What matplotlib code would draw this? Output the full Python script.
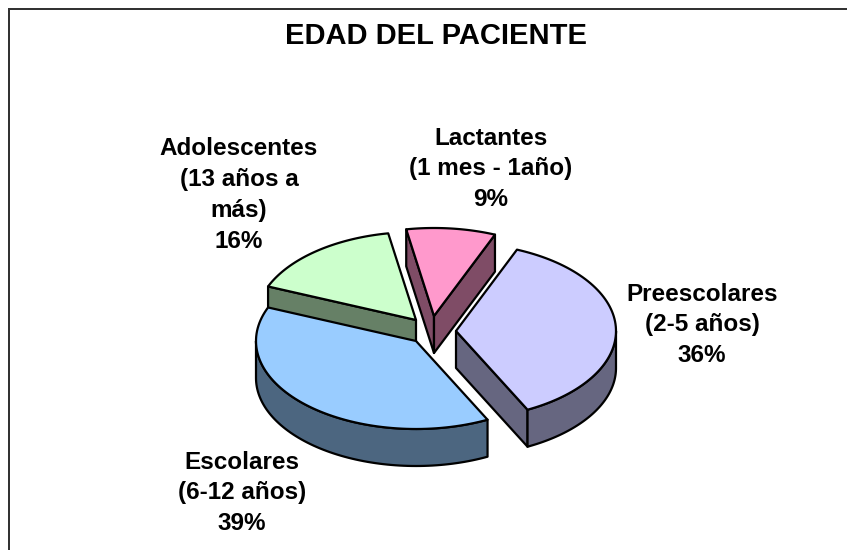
import numpy as np
from matplotlib import pyplot as plt

titulo = 'EDAD DEL PACIENTE'
categorias = ['Lactantes\n(1 mes - 1año)', 'Preescolares\n(2-5 años)', 'Escolares\n(6-12 años)', 'Adolescentes\n(13 años a\nmás)']
valores = [9.0, 36.4, 38.6, 16.0]
etiquetas_pct = ['9%', '36%', '39%', '16%']

colores = ['#FF99CC', '#CCCCFF', '#99CCFF', '#CCFFCC']
colores_lado = ['#7F4C66', '#666680', '#4C6680', '#668066']

# apex of every slice on the top surface, in pixels
centros = [(434, 316), (456, 331), (416, 341), (416, 320)]
pos_etiquetas = [(491, 169), (702, 325), (242, 493), (239, 195)]

RX = 160
RY = 88
ALTO = 37
INICIO = -10


def punto(c, ang):
    # ang is clockwise from the top of the pie, in degrees
    r = np.radians(ang)
    return c[0] + RX * np.sin(r), c[1] - RY * np.cos(r)


def arco(c, a1, a2):
    t = np.linspace(a1, a2, 80)
    return punto(c, t)


def lado_radial(ax, c, ang, color, z):
    x, y = punto(c, ang)
    ax.fill([c[0], x, x, c[0]], [c[1], y, y + ALTO, c[1] + ALTO],
            facecolor=color, edgecolor='black', lw=1.6, joinstyle='round', zorder=z)


def lado_curvo(ax, c, a1, a2, color, z):
    # outer wall, only the front part of the ellipse (90 to 270) shows
    a1 = max(a1, 90)
    a2 = min(a2, 270)
    if a2 <= a1:
        return
    x, y = arco(c, a1, a2)
    ax.fill(np.r_[x, x[::-1]], np.r_[y, y[::-1] + ALTO],
            facecolor=color, edgecolor='black', lw=1.6, joinstyle='round', zorder=z)


def tapa(ax, c, a1, a2, color, z):
    x, y = arco(c, a1, a2)
    ax.fill(np.r_[c[0], x], np.r_[c[1], y],
            facecolor=color, edgecolor='black', lw=1.6, joinstyle='round', zorder=z)


def main():
    plt.rcParams['font.family'] = ['Liberation Sans', 'DejaVu Sans']

    fig = plt.figure(figsize=(8.47, 5.5), dpi=100)
    ax = fig.add_axes([0, 0, 1, 1])
    ax.set_xlim(0, 847)
    ax.set_ylim(550, 0)
    ax.axis('off')

    # chart frame, runs off the right and bottom of the picture
    ax.plot([9, 9, 847], [550, 9, 9], color='#333333', lw=1.44, solid_joinstyle='miter')

    bordes = INICIO + np.r_[0, np.cumsum(valores) * 3.6]

    # green, pink and lilac go first, blue sits on top of the green wall
    for i, z in [(3, 2), (0, 3), (1, 3)]:
        a1, a2 = bordes[i], bordes[i + 1]
        c = centros[i]
        if i == 0:
            lado_radial(ax, c, a1, colores_lado[i], z)
            lado_radial(ax, c, a2, colores_lado[i], z)
        elif i == 1:
            lado_radial(ax, c, a2, colores_lado[i], z)
            lado_curvo(ax, c, a1, a2, colores_lado[i], z)
        else:
            lado_radial(ax, c, a1, colores_lado[i], z)
        tapa(ax, c, a1, a2, colores[i], z)

    a1, a2 = bordes[2], bordes[3]
    c = centros[2]
    lado_curvo(ax, c, a1, a2, colores_lado[2], 4)
    tapa(ax, c, a1, a2, colores[2], 4)

    ax.text(436, 36, titulo, ha='center', va='center', fontsize=21, fontweight='bold')

    for cat, pct, pos in zip(categorias, etiquetas_pct, pos_etiquetas):
        ax.text(pos[0], pos[1], cat + '\n' + pct, ha='center', va='center',
                fontsize=17.5, fontweight='bold', linespacing=1.43, zorder=6)

    fig.savefig('out.png', dpi=100)


if __name__ == "__main__":
    main()
